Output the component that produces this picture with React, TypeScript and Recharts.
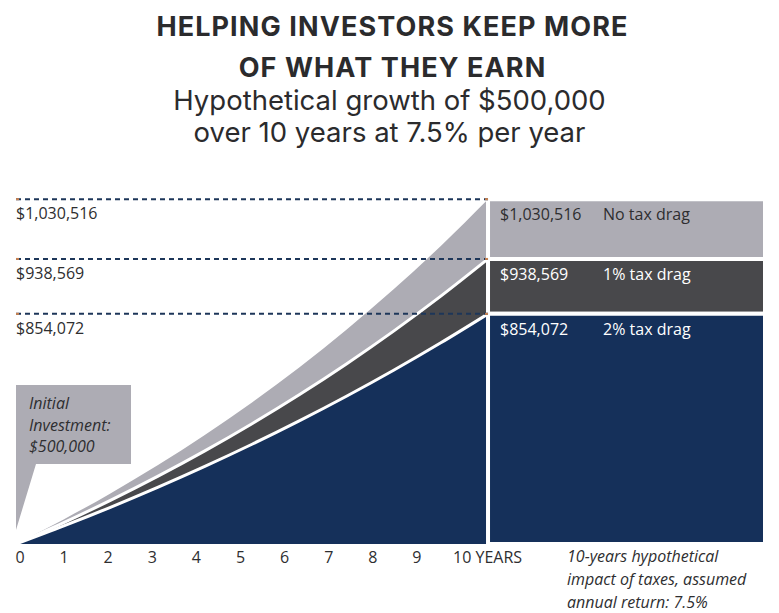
import React from 'react';
import { ComposedChart, Area, XAxis, YAxis, ReferenceLine, ReferenceArea, ReferenceDot } from 'recharts';

const years = [0, 1, 2, 3, 4, 5, 6, 7, 8, 9, 10];
const noTaxDrag = [500000, 537500, 577813, 621148, 667735, 717815, 771651, 829525, 891739, 958619, 1030516];
const oneTaxDrag = [500000, 532500, 567113, 603975, 643233, 685043, 729571, 776993, 827498, 881285, 938569];
const twoTaxDrag = [500000, 527500, 556513, 587121, 619412, 653480, 689421, 727340, 767343, 809547, 854072];
const finalValues = [1030516, 938569, 854072];
const finalLabels = ['$1,030,516', '$938,569', '$854,072'];
const scenarioNames = ['No tax drag', '1% tax drag', '2% tax drag'];
const tickYears = [0, 1, 2, 3, 4, 5, 6, 7, 8, 9, 10];
const initialValue = 500000;
const calloutLines = ['Initial', 'Investment:', '$500,000'];
const titleLines = ['HELPING INVESTORS KEEP MORE', 'OF WHAT THEY EARN'];
const subtitleLines = ['Hypothetical growth of $500,000', 'over 10 years at 7.5% per year'];
const noteLines = ['10-years hypothetical', 'impact of taxes, assumed', 'annual return: 7.5%'];

const GRAY = '#adacb4';
const DARK = '#48484b';
const NAVY = '#15305a';
const DASH = '#1d3659';
const ORANGE = '#c98250';
const TEXT = '#2e2e30';
const FONT = "'Open Sans', sans-serif";

const data = years.map((y, i) => ({
  year: y,
  noTax: noTaxDrag[i],
  one: oneTaxDrag[i],
  two: twoTaxDrag[i],
}));

const panelFills = [GRAY, DARK, NAVY];
const panelText = [TEXT, '#ffffff', '#ffffff'];
const panelBottoms = [finalValues[1], finalValues[2], initialValue];

const renderTick = (props: any) => {
  const { x, y, payload } = props;
  const v = payload.value;
  if (v === 10) {
    return (
      <text x={x - 8} y={y} dy="0.71em" textAnchor="start" fontFamily={FONT} fontSize={16} fill={TEXT}>
        10 YEARS
      </text>
    );
  }
  return (
    <text x={x} y={y} dy="0.71em" textAnchor="middle" fontFamily={FONT} fontSize={16} fill={TEXT}>
      {v}
    </text>
  );
};

const makeLineLabel = (text: string) => (props: any) => {
  const vb = props.viewBox || {};
  const x = vb.x ?? 0;
  const y = vb.y ?? 0;
  const w = vb.width ?? 0;
  return (
    <g>
      <rect x={x} y={y - 1} width={3} height={2} fill={ORANGE} />
      <rect x={x + w - 3} y={y - 1} width={3} height={2} fill={ORANGE} />
      <text x={x} y={y + 20} fontFamily={FONT} fontSize={16} fill={TEXT}>
        {text}
      </text>
    </g>
  );
};

const makePanelLabel = (value: string, name: string, color: string) => (props: any) => {
  const vb = props.viewBox || {};
  const x = vb.x ?? 0;
  const y = vb.y ?? 0;
  return (
    <g>
      <text x={x + 12} y={y + 21} fontFamily={FONT} fontSize={16} fill={color}>
        {value}
      </text>
      <text x={x + 115} y={y + 21} fontFamily={FONT} fontSize={16} fill={color}>
        {name}
      </text>
    </g>
  );
};

const renderCallout = (props: any) => {
  const { cx, cy } = props;
  const top = cy - 159;
  const bottom = cy - 80;
  const path = `M${cx},${top} L${cx + 115},${top} L${cx + 115},${bottom} L${cx + 20},${bottom} L${cx},${cy - 14} Z`;
  return (
    <g>
      <path d={path} fill={GRAY} />
      {calloutLines.map((t, i) => (
        <text key={i} x={cx + 13} y={top + 24 + i * 21.5} fontFamily={FONT} fontStyle="italic" fontSize={16} fill={TEXT}>
          {t}
        </text>
      ))}
    </g>
  );
};

export default function App() {
  return (
    <div style={{ position: 'absolute', left: 0, top: 0, width: 779, height: 613, background: '#ffffff', overflow: 'hidden' }}>
      {titleLines.map((t, i) => (
        <div
          key={'t' + i}
          style={{
            position: 'absolute', left: 0, width: 785, top: [9, 50][i], height: 36, lineHeight: '36px',
            textAlign: 'center', fontFamily: 'Inter, sans-serif', fontWeight: 700, fontSize: 27, letterSpacing: 1.1, color: '#2b2b2d',
          }}
        >
          {t}
        </div>
      ))}
      {subtitleLines.map((t, i) => (
        <div
          key={'s' + i}
          style={{
            position: 'absolute', left: 0, width: 779, top: [82, 114][i], height: 36, lineHeight: '36px',
            textAlign: 'center', fontFamily: 'Inter, sans-serif', fontWeight: 400, fontSize: 27.5, color: '#2b2b2d',
          }}
        >
          {t}
        </div>
      ))}
      <div style={{ position: 'absolute', left: 0, top: 0 }}>
        <ComposedChart width={779} height={613} data={data} margin={{ top: 180, right: 14, bottom: 39, left: 16 }}>
          <XAxis xAxisId="main" dataKey="year" type="number" domain={[0, 15.868]} hide allowDataOverflow />
          <XAxis
            xAxisId="lbl"
            dataKey="year"
            type="number"
            domain={[-0.0907, 16.893]}
            ticks={tickYears}
            interval={0}
            tick={renderTick}
            axisLine={false}
            tickLine={false}
            height={30}
            allowDataOverflow
          />
          <YAxis type="number" domain={[initialValue, 1060000]} hide allowDataOverflow />
          <Area xAxisId="main" type="monotone" dataKey="noTax" fill={GRAY} fillOpacity={1} stroke="none" dot={false} activeDot={false} isAnimationActive={false} />
          <Area xAxisId="main" type="monotone" dataKey="one" fill={DARK} fillOpacity={1} stroke="#ffffff" strokeWidth={3} dot={false} activeDot={false} isAnimationActive={false} />
          <Area xAxisId="main" type="monotone" dataKey="two" fill={NAVY} fillOpacity={1} stroke="#ffffff" strokeWidth={3} dot={false} activeDot={false} isAnimationActive={false} />
          {finalValues.map((v, i) => (
            <ReferenceArea
              key={'pa' + i}
              xAxisId="main"
              x1={10}
              x2={15.868}
              y1={panelBottoms[i]}
              y2={v}
              fill={panelFills[i]}
              fillOpacity={1}
              stroke="#ffffff"
              strokeWidth={4}
              ifOverflow="visible"
              label={makePanelLabel(finalLabels[i], scenarioNames[i], panelText[i])}
            />
          ))}
          {finalValues.map((v, i) => (
            <ReferenceLine
              key={'rl' + i}
              xAxisId="main"
              segment={[{ x: 0, y: v }, { x: 10, y: v }]}
              stroke={DASH}
              strokeWidth={2}
              strokeDasharray="5 4"
              ifOverflow="visible"
              label={makeLineLabel(finalLabels[i])}
            />
          ))}
          <ReferenceDot xAxisId="main" x={0} y={initialValue} r={0} ifOverflow="visible" shape={renderCallout} />
        </ComposedChart>
      </div>
      <div style={{ position: 'absolute', left: 567, top: 545, fontFamily: FONT, fontStyle: 'italic', fontSize: 16, lineHeight: '23px', color: TEXT, whiteSpace: 'nowrap' }}>
        {noteLines.map((t, i) => (
          <div key={'n' + i}>{t}</div>
        ))}
      </div>
    </div>
  );
}
